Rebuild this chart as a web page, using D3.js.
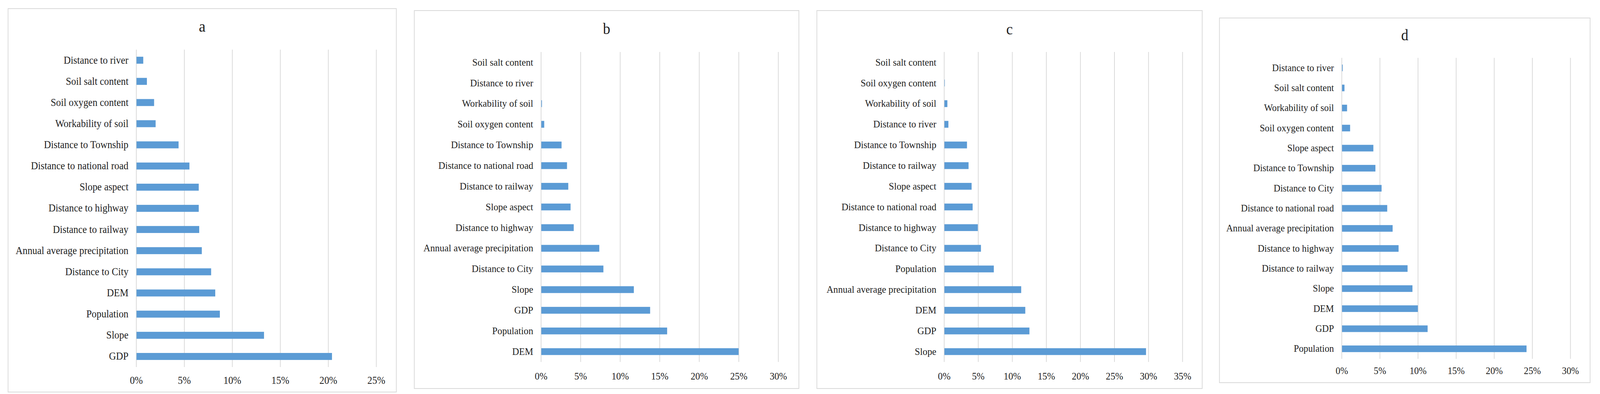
<!DOCTYPE html>
<html>
<head>
<meta charset="utf-8">
<script src="https://cdn.jsdelivr.net/npm/d3@7"></script>
<style>
  html, body { margin: 0; padding: 0; width: 100%; height: 100%; overflow: hidden; background: #fff; }
  #chart { width: 100%; height: 100%; }
  svg { display: block; }
  svg text { font-family: "Liberation Serif", "Times New Roman", serif; fill: #1e1e1e; }
</style>
</head>
<body>
<div id="chart"></div>
<script>
// categories of each panel, listed top to bottom
let cats_a = ["Distance to river", "Soil salt content", "Soil oxygen content", "Workability of soil",
  "Distance to Township", "Distance to national road", "Slope aspect", "Distance to highway",
  "Distance to railway", "Annual average precipitation", "Distance to City", "DEM", "Population", "Slope", "GDP"]
let vals_a = [0.74, 1.12, 1.87, 2.03, 4.42, 5.55, 6.52, 6.52, 6.57, 6.84, 7.81, 8.24, 8.72, 13.32, 20.4]

let cats_b = ["Soil salt content", "Distance to river", "Workability of soil", "Soil oxygen content",
  "Distance to Township", "Distance to national road", "Distance to railway", "Slope aspect",
  "Distance to highway", "Annual average precipitation", "Distance to City", "Slope", "GDP", "Population", "DEM"]
let vals_b = [0.0, 0.02, 0.13, 0.42, 2.61, 3.30, 3.46, 3.75, 4.15, 7.38, 7.90, 11.75, 13.81, 15.96, 25.0]

let cats_c = ["Soil salt content", "Soil oxygen content", "Workability of soil", "Distance to river",
  "Distance to Township", "Distance to railway", "Slope aspect", "Distance to national road",
  "Distance to highway", "Distance to City", "Population", "Annual average precipitation", "DEM", "GDP", "Slope"]
let vals_c = [0.0, 0.11, 0.49, 0.64, 3.37, 3.60, 4.05, 4.20, 4.96, 5.42, 7.31, 11.33, 11.93, 12.54, 29.66]

let cats_d = ["Distance to river", "Soil salt content", "Workability of soil", "Soil oxygen content",
  "Slope aspect", "Distance to Township", "Distance to City", "Distance to national road",
  "Annual average precipitation", "Distance to highway", "Distance to railway", "Slope", "DEM", "GDP", "Population"]
let vals_d = [0.14, 0.37, 0.71, 1.11, 4.16, 4.43, 5.24, 5.98, 6.69, 7.47, 8.65, 9.29, 10.0, 11.28, 24.26]

let ticks_a = [0, 5, 10, 15, 20, 25]
let ticks_b = [0, 5, 10, 15, 20, 25, 30]
let ticks_c = [0, 5, 10, 15, 20, 25, 30, 35]
let ticks_d = [0, 5, 10, 15, 20, 25, 30]

let panels = [
  {title: "a", cats: cats_a, vals: vals_a, ticks: ticks_a,
   box: [22, 22, 1080, 1003], plot: [371, 127, 1025, 939], fs: 26.5, tickY: 34, titleY: 81},
  {title: "b", cats: cats_b, vals: vals_b, ticks: ticks_b,
   box: [1129, 27, 2177, 994], plot: [1474, 133, 2120.5, 926], fs: 25.8, tickY: 36, titleY: 87},
  {title: "c", cats: cats_c, vals: vals_c, ticks: ticks_c,
   box: [2226, 27, 3276, 994], plot: [2572.5, 133, 3222, 926], fs: 25.8, tickY: 36, titleY: 88},
  {title: "d", cats: cats_d, vals: vals_d, ticks: ticks_d,
   box: [3323, 46, 4333, 979], plot: [3656, 148, 4279, 918], fs: 25.3, tickY: 30, titleY: 103}
]

let width = 4360
let height = 1008

// fit the drawing to the window whatever its real size
let svg = d3.select("#chart").append("svg")
  .attr("width", "100%")
  .attr("height", "100%")
  .attr("viewBox", "0 0 " + width + " " + height)
  .attr("preserveAspectRatio", "none")

panels.forEach(p => drawPanel(p))

function drawPanel(p) {
  let g = svg.append("g")

  // frame
  g.append("rect")
    .attr("x", p.box[0]).attr("y", p.box[1])
    .attr("width", p.box[2] - p.box[0]).attr("height", p.box[3] - p.box[1])
    .attr("fill", "#fff")
    .attr("stroke", "#d9d9d9")
    .attr("stroke-width", 2)

  // title
  g.append("text")
    .attr("x", (p.box[0] + p.box[2]) / 2)
    .attr("y", p.titleY)
    .attr("text-anchor", "middle")
    .style("font-size", (p.fs * 1.55) + "px")
    .text(p.title)

  let x = d3.scaleLinear()
    .domain([0, p.ticks[p.ticks.length - 1]])
    .range([p.plot[0], p.plot[2]])

  let y = d3.scaleBand()
    .domain(p.cats)
    .range([p.plot[1], p.plot[3]])
    .paddingInner(0.67)
    .paddingOuter(0.335)

  let h = p.plot[3] - p.plot[1]

  // gridlines + tick labels
  let xAxis = g.append("g")
    .attr("transform", "translate(0," + p.plot[3] + ")")
    .call(d3.axisBottom(x).tickValues(p.ticks).tickSizeInner(-h).tickSizeOuter(0)
      .tickFormat(d => d + "%"))
  xAxis.select(".domain").remove()
  xAxis.selectAll(".tick line").attr("stroke", "#d9d9d9").attr("stroke-width", 2)
  xAxis.selectAll(".tick text")
    .attr("y", p.tickY)
    .attr("dy", "0.35em")
    .attr("fill", null)
    .style("font-size", p.fs + "px")
  xAxis.attr("font-family", null).attr("font-size", null)

  // bars
  g.append("g")
    .selectAll("rect")
    .data(p.cats.map((c, i) => [c, p.vals[i]]))
    .join("rect")
      .attr("x", x(0) + 1)
      .attr("y", d => y(d[0]))
      .attr("width", d => Math.max(0, x(d[1]) - x(0) - 1))
      .attr("height", y.bandwidth())
      .attr("fill", "#5b9bd5")

  // category labels
  let yAxis = g.append("g")
    .attr("transform", "translate(" + p.plot[0] + ",0)")
    .call(d3.axisLeft(y).tickSize(0).tickPadding(21))
  yAxis.select(".domain").remove()
  yAxis.selectAll(".tick text")
    .attr("fill", null)
    .style("font-size", p.fs + "px")
  yAxis.attr("font-family", null).attr("font-size", null)
}
</script>
</body>
</html>
